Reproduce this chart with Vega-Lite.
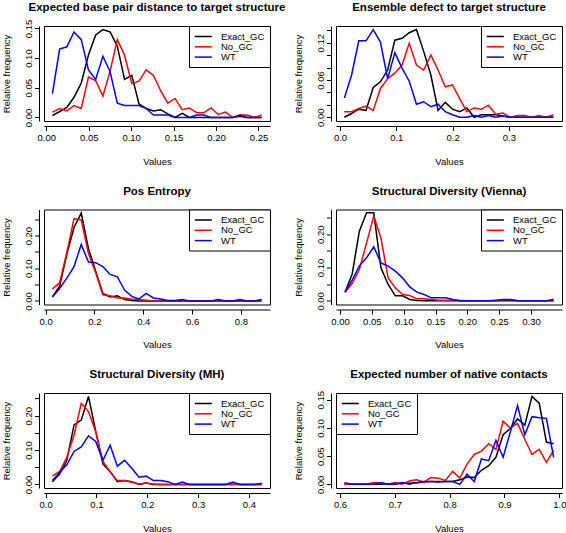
{
  "$schema": "https://vega.github.io/schema/vega-lite/v6.json",
  "padding": {"top": 1, "left": 0, "right": 0, "bottom": 0},
  "background": "white",
  "config": {
    "font": "Liberation Sans",
    "view": {"stroke": "black", "strokeWidth": 1},
    "axis": {"grid": false, "domainColor": "black", "tickColor": "black", "labelColor": "black", "titleColor": "black", "labelFontSize": 9.5, "titleFontSize": 9.5, "titleFontWeight": "normal", "tickSize": 4.5, "domainWidth": 1, "tickWidth": 1, "labelFont": "Liberation Sans", "titleFont": "Liberation Sans", "labelOverlap": false, "labelFlush": false, "labelBound": false, "offset": 5},
    "axisX": {"labelPadding": 2, "titlePadding": 14},
    "axisY": {"labelAngle": -90, "labelAlign": "center", "labelBaseline": "bottom", "labelPadding": 1.5, "titlePadding": 12},
    "title": {"fontSize": 11.5, "fontWeight": "bold", "anchor": "middle", "frame": "group", "color": "black", "font": "Liberation Sans", "baseline": "alphabetic", "offset": 12},
    "legend": {"orient": "top-right", "offset": 0, "strokeColor": "black", "fillColor": "white", "padding": 5, "symbolType": "M-1,0H2.6", "symbolSize": 90, "symbolStrokeWidth": 1.5, "symbolFillColor": "transparent", "labelFontSize": 9.5, "labelFont": "Liberation Sans", "labelColor": "black", "labelOffset": 16, "rowPadding": 0.3, "title": null, "cornerRadius": 0},
    "line": {"strokeWidth": 1.5}
  },
  "datasets": {
    "d": [
      {"p":1,"s":"Exact_GC","x":0.0072,"y":0.003},{"p":1,"s":"Exact_GC","x":0.0157,"y":0.01},{"p":1,"s":"Exact_GC","x":0.0242,"y":0.017},{"p":1,"s":"Exact_GC","x":0.0327,"y":0.034},{"p":1,"s":"Exact_GC","x":0.0412,"y":0.058},{"p":1,"s":"Exact_GC","x":0.0497,"y":0.105},{"p":1,"s":"Exact_GC","x":0.0582,"y":0.139},{"p":1,"s":"Exact_GC","x":0.0667,"y":0.148},{"p":1,"s":"Exact_GC","x":0.0752,"y":0.144},{"p":1,"s":"Exact_GC","x":0.0837,"y":0.12},{"p":1,"s":"Exact_GC","x":0.0922,"y":0.064},{"p":1,"s":"Exact_GC","x":0.1007,"y":0.071},{"p":1,"s":"Exact_GC","x":0.1092,"y":0.023},{"p":1,"s":"Exact_GC","x":0.1177,"y":0.015},{"p":1,"s":"Exact_GC","x":0.1262,"y":0.011},{"p":1,"s":"Exact_GC","x":0.1347,"y":0.013},{"p":1,"s":"Exact_GC","x":0.1432,"y":0.006},{"p":1,"s":"Exact_GC","x":0.1517,"y":0},{"p":1,"s":"Exact_GC","x":0.1602,"y":0.007},{"p":1,"s":"Exact_GC","x":0.1687,"y":0},{"p":1,"s":"Exact_GC","x":0.1772,"y":0},{"p":1,"s":"Exact_GC","x":0.1857,"y":0},{"p":1,"s":"Exact_GC","x":0.1942,"y":0},{"p":1,"s":"Exact_GC","x":0.2027,"y":0},{"p":1,"s":"Exact_GC","x":0.2112,"y":0},{"p":1,"s":"Exact_GC","x":0.2197,"y":0},{"p":1,"s":"Exact_GC","x":0.2282,"y":0.002},{"p":1,"s":"Exact_GC","x":0.2367,"y":0},{"p":1,"s":"Exact_GC","x":0.2452,"y":0},{"p":1,"s":"Exact_GC","x":0.2537,"y":0},
      {"p":1,"s":"No_GC","x":0.0072,"y":0.009},{"p":1,"s":"No_GC","x":0.0157,"y":0.015},{"p":1,"s":"No_GC","x":0.0242,"y":0.011},{"p":1,"s":"No_GC","x":0.0327,"y":0.02},{"p":1,"s":"No_GC","x":0.0412,"y":0.015},{"p":1,"s":"No_GC","x":0.0497,"y":0.068},{"p":1,"s":"No_GC","x":0.0582,"y":0.062},{"p":1,"s":"No_GC","x":0.0667,"y":0.036},{"p":1,"s":"No_GC","x":0.0752,"y":0.078},{"p":1,"s":"No_GC","x":0.0837,"y":0.131},{"p":1,"s":"No_GC","x":0.0922,"y":0.105},{"p":1,"s":"No_GC","x":0.1007,"y":0.057},{"p":1,"s":"No_GC","x":0.1092,"y":0.061},{"p":1,"s":"No_GC","x":0.1177,"y":0.08},{"p":1,"s":"No_GC","x":0.1262,"y":0.071},{"p":1,"s":"No_GC","x":0.1347,"y":0.045},{"p":1,"s":"No_GC","x":0.1432,"y":0.024},{"p":1,"s":"No_GC","x":0.1517,"y":0.032},{"p":1,"s":"No_GC","x":0.1602,"y":0.013},{"p":1,"s":"No_GC","x":0.1687,"y":0.016},{"p":1,"s":"No_GC","x":0.1772,"y":0.008},{"p":1,"s":"No_GC","x":0.1857,"y":0.008},{"p":1,"s":"No_GC","x":0.1942,"y":0.016},{"p":1,"s":"No_GC","x":0.2027,"y":0.005},{"p":1,"s":"No_GC","x":0.2112,"y":0.009},{"p":1,"s":"No_GC","x":0.2197,"y":0},{"p":1,"s":"No_GC","x":0.2282,"y":0.004},{"p":1,"s":"No_GC","x":0.2367,"y":0.004},{"p":1,"s":"No_GC","x":0.2452,"y":0},{"p":1,"s":"No_GC","x":0.2537,"y":0.004},
      {"p":1,"s":"WT","x":0.0072,"y":0.04},{"p":1,"s":"WT","x":0.0157,"y":0.115},{"p":1,"s":"WT","x":0.0242,"y":0.119},{"p":1,"s":"WT","x":0.0327,"y":0.144},{"p":1,"s":"WT","x":0.0412,"y":0.131},{"p":1,"s":"WT","x":0.0497,"y":0.08},{"p":1,"s":"WT","x":0.0582,"y":0.064},{"p":1,"s":"WT","x":0.0667,"y":0.103},{"p":1,"s":"WT","x":0.0752,"y":0.077},{"p":1,"s":"WT","x":0.0837,"y":0.024},{"p":1,"s":"WT","x":0.0922,"y":0.02},{"p":1,"s":"WT","x":0.1007,"y":0.02},{"p":1,"s":"WT","x":0.1092,"y":0.02},{"p":1,"s":"WT","x":0.1177,"y":0.015},{"p":1,"s":"WT","x":0.1262,"y":0.004},{"p":1,"s":"WT","x":0.1347,"y":0.004},{"p":1,"s":"WT","x":0.1432,"y":0.004},{"p":1,"s":"WT","x":0.1517,"y":0},{"p":1,"s":"WT","x":0.1602,"y":0},{"p":1,"s":"WT","x":0.1687,"y":0},{"p":1,"s":"WT","x":0.1772,"y":0.004},{"p":1,"s":"WT","x":0.1857,"y":0.004},{"p":1,"s":"WT","x":0.1942,"y":0},{"p":1,"s":"WT","x":0.2027,"y":0},{"p":1,"s":"WT","x":0.2112,"y":0},{"p":1,"s":"WT","x":0.2197,"y":0},{"p":1,"s":"WT","x":0.2282,"y":0.004},{"p":1,"s":"WT","x":0.2367,"y":0},{"p":1,"s":"WT","x":0.2452,"y":0},{"p":1,"s":"WT","x":0.2537,"y":0},

      {"p":2,"s":"Exact_GC","x":0.0078,"y":0},{"p":2,"s":"Exact_GC","x":0.0206,"y":0.006},{"p":2,"s":"Exact_GC","x":0.0334,"y":0.013},{"p":2,"s":"Exact_GC","x":0.0462,"y":0.011},{"p":2,"s":"Exact_GC","x":0.059,"y":0.048},{"p":2,"s":"Exact_GC","x":0.0718,"y":0.057},{"p":2,"s":"Exact_GC","x":0.0846,"y":0.076},{"p":2,"s":"Exact_GC","x":0.0974,"y":0.124},{"p":2,"s":"Exact_GC","x":0.1102,"y":0.127},{"p":2,"s":"Exact_GC","x":0.123,"y":0.136},{"p":2,"s":"Exact_GC","x":0.1358,"y":0.141},{"p":2,"s":"Exact_GC","x":0.1486,"y":0.106},{"p":2,"s":"Exact_GC","x":0.1614,"y":0.068},{"p":2,"s":"Exact_GC","x":0.1742,"y":0.011},{"p":2,"s":"Exact_GC","x":0.187,"y":0.024},{"p":2,"s":"Exact_GC","x":0.1998,"y":0.013},{"p":2,"s":"Exact_GC","x":0.2126,"y":0.009},{"p":2,"s":"Exact_GC","x":0.2254,"y":0.015},{"p":2,"s":"Exact_GC","x":0.2382,"y":0},{"p":2,"s":"Exact_GC","x":0.251,"y":0.004},{"p":2,"s":"Exact_GC","x":0.2638,"y":0.004},{"p":2,"s":"Exact_GC","x":0.2766,"y":0.004},{"p":2,"s":"Exact_GC","x":0.2894,"y":0.002},{"p":2,"s":"Exact_GC","x":0.3022,"y":0},{"p":2,"s":"Exact_GC","x":0.315,"y":0},{"p":2,"s":"Exact_GC","x":0.3278,"y":0},{"p":2,"s":"Exact_GC","x":0.3406,"y":0},{"p":2,"s":"Exact_GC","x":0.3534,"y":0},{"p":2,"s":"Exact_GC","x":0.3662,"y":0},{"p":2,"s":"Exact_GC","x":0.379,"y":0},
      {"p":2,"s":"No_GC","x":0.0078,"y":0.009},{"p":2,"s":"No_GC","x":0.0206,"y":0.009},{"p":2,"s":"No_GC","x":0.0334,"y":0.014},{"p":2,"s":"No_GC","x":0.0462,"y":0.018},{"p":2,"s":"No_GC","x":0.059,"y":0.011},{"p":2,"s":"No_GC","x":0.0718,"y":0.046},{"p":2,"s":"No_GC","x":0.0846,"y":0.062},{"p":2,"s":"No_GC","x":0.0974,"y":0.071},{"p":2,"s":"No_GC","x":0.1102,"y":0.084},{"p":2,"s":"No_GC","x":0.123,"y":0.119},{"p":2,"s":"No_GC","x":0.1358,"y":0.084},{"p":2,"s":"No_GC","x":0.1486,"y":0.076},{"p":2,"s":"No_GC","x":0.1614,"y":0.1},{"p":2,"s":"No_GC","x":0.1742,"y":0.076},{"p":2,"s":"No_GC","x":0.187,"y":0.049},{"p":2,"s":"No_GC","x":0.1998,"y":0.052},{"p":2,"s":"No_GC","x":0.2126,"y":0.03},{"p":2,"s":"No_GC","x":0.2254,"y":0.009},{"p":2,"s":"No_GC","x":0.2382,"y":0.015},{"p":2,"s":"No_GC","x":0.251,"y":0.013},{"p":2,"s":"No_GC","x":0.2638,"y":0.019},{"p":2,"s":"No_GC","x":0.2766,"y":0.005},{"p":2,"s":"No_GC","x":0.2894,"y":0.007},{"p":2,"s":"No_GC","x":0.3022,"y":0},{"p":2,"s":"No_GC","x":0.315,"y":0.003},{"p":2,"s":"No_GC","x":0.3278,"y":0.003},{"p":2,"s":"No_GC","x":0.3406,"y":0},{"p":2,"s":"No_GC","x":0.3534,"y":0.003},{"p":2,"s":"No_GC","x":0.3662,"y":0},{"p":2,"s":"No_GC","x":0.379,"y":0.004},
      {"p":2,"s":"WT","x":0.0078,"y":0.031},{"p":2,"s":"WT","x":0.0206,"y":0.068},{"p":2,"s":"WT","x":0.0334,"y":0.123},{"p":2,"s":"WT","x":0.0462,"y":0.123},{"p":2,"s":"WT","x":0.059,"y":0.141},{"p":2,"s":"WT","x":0.0718,"y":0.121},{"p":2,"s":"WT","x":0.0846,"y":0.062},{"p":2,"s":"WT","x":0.0974,"y":0.104},{"p":2,"s":"WT","x":0.1102,"y":0.079},{"p":2,"s":"WT","x":0.123,"y":0.058},{"p":2,"s":"WT","x":0.1358,"y":0.021},{"p":2,"s":"WT","x":0.1486,"y":0.025},{"p":2,"s":"WT","x":0.1614,"y":0.017},{"p":2,"s":"WT","x":0.1742,"y":0.021},{"p":2,"s":"WT","x":0.187,"y":0.009},{"p":2,"s":"WT","x":0.1998,"y":0.004},{"p":2,"s":"WT","x":0.2126,"y":0},{"p":2,"s":"WT","x":0.2254,"y":0},{"p":2,"s":"WT","x":0.2382,"y":0.003},{"p":2,"s":"WT","x":0.251,"y":0},{"p":2,"s":"WT","x":0.2638,"y":0.003},{"p":2,"s":"WT","x":0.2766,"y":0},{"p":2,"s":"WT","x":0.2894,"y":0.002},{"p":2,"s":"WT","x":0.3022,"y":0},{"p":2,"s":"WT","x":0.315,"y":0},{"p":2,"s":"WT","x":0.3278,"y":0},{"p":2,"s":"WT","x":0.3406,"y":0},{"p":2,"s":"WT","x":0.3534,"y":0},{"p":2,"s":"WT","x":0.3662,"y":0},{"p":2,"s":"WT","x":0.379,"y":0},

      {"p":3,"s":"Exact_GC","x":0.0277,"y":0.012},{"p":3,"s":"Exact_GC","x":0.0573,"y":0.045},{"p":3,"s":"Exact_GC","x":0.0868,"y":0.143},{"p":3,"s":"Exact_GC","x":0.1164,"y":0.225},{"p":3,"s":"Exact_GC","x":0.1459,"y":0.269},{"p":3,"s":"Exact_GC","x":0.1755,"y":0.16},{"p":3,"s":"Exact_GC","x":0.205,"y":0.091},{"p":3,"s":"Exact_GC","x":0.2346,"y":0.023},{"p":3,"s":"Exact_GC","x":0.2641,"y":0.012},{"p":3,"s":"Exact_GC","x":0.2937,"y":0.016},{"p":3,"s":"Exact_GC","x":0.3232,"y":0.004},{"p":3,"s":"Exact_GC","x":0.3528,"y":0.001},{"p":3,"s":"Exact_GC","x":0.3823,"y":0},{"p":3,"s":"Exact_GC","x":0.4119,"y":0},{"p":3,"s":"Exact_GC","x":0.4414,"y":0},{"p":3,"s":"Exact_GC","x":0.471,"y":0},{"p":3,"s":"Exact_GC","x":0.5005,"y":0},{"p":3,"s":"Exact_GC","x":0.5301,"y":0},{"p":3,"s":"Exact_GC","x":0.5596,"y":0},{"p":3,"s":"Exact_GC","x":0.5892,"y":0},{"p":3,"s":"Exact_GC","x":0.6187,"y":0},{"p":3,"s":"Exact_GC","x":0.6483,"y":0},{"p":3,"s":"Exact_GC","x":0.6778,"y":0},{"p":3,"s":"Exact_GC","x":0.7074,"y":0},{"p":3,"s":"Exact_GC","x":0.7369,"y":0},{"p":3,"s":"Exact_GC","x":0.7665,"y":0},{"p":3,"s":"Exact_GC","x":0.796,"y":0},{"p":3,"s":"Exact_GC","x":0.8256,"y":0},{"p":3,"s":"Exact_GC","x":0.8551,"y":0},{"p":3,"s":"Exact_GC","x":0.8847,"y":0},
      {"p":3,"s":"No_GC","x":0.0277,"y":0.037},{"p":3,"s":"No_GC","x":0.0573,"y":0.055},{"p":3,"s":"No_GC","x":0.0868,"y":0.148},{"p":3,"s":"No_GC","x":0.1164,"y":0.252},{"p":3,"s":"No_GC","x":0.1459,"y":0.248},{"p":3,"s":"No_GC","x":0.1755,"y":0.145},{"p":3,"s":"No_GC","x":0.205,"y":0.086},{"p":3,"s":"No_GC","x":0.2346,"y":0.019},{"p":3,"s":"No_GC","x":0.2641,"y":0.016},{"p":3,"s":"No_GC","x":0.2937,"y":0.009},{"p":3,"s":"No_GC","x":0.3232,"y":0.009},{"p":3,"s":"No_GC","x":0.3528,"y":0.006},{"p":3,"s":"No_GC","x":0.3823,"y":0.004},{"p":3,"s":"No_GC","x":0.4119,"y":0.002},{"p":3,"s":"No_GC","x":0.4414,"y":0},{"p":3,"s":"No_GC","x":0.471,"y":0},{"p":3,"s":"No_GC","x":0.5005,"y":0},{"p":3,"s":"No_GC","x":0.5301,"y":0},{"p":3,"s":"No_GC","x":0.5596,"y":0},{"p":3,"s":"No_GC","x":0.5892,"y":0},{"p":3,"s":"No_GC","x":0.6187,"y":0},{"p":3,"s":"No_GC","x":0.6483,"y":0},{"p":3,"s":"No_GC","x":0.6778,"y":0},{"p":3,"s":"No_GC","x":0.7074,"y":0},{"p":3,"s":"No_GC","x":0.7369,"y":0},{"p":3,"s":"No_GC","x":0.7665,"y":0},{"p":3,"s":"No_GC","x":0.796,"y":0},{"p":3,"s":"No_GC","x":0.8256,"y":0},{"p":3,"s":"No_GC","x":0.8551,"y":0},{"p":3,"s":"No_GC","x":0.8847,"y":0.002},
      {"p":3,"s":"WT","x":0.0277,"y":0.012},{"p":3,"s":"WT","x":0.0573,"y":0.038},{"p":3,"s":"WT","x":0.0868,"y":0.07},{"p":3,"s":"WT","x":0.1164,"y":0.105},{"p":3,"s":"WT","x":0.1459,"y":0.173},{"p":3,"s":"WT","x":0.1755,"y":0.119},{"p":3,"s":"WT","x":0.205,"y":0.117},{"p":3,"s":"WT","x":0.2346,"y":0.105},{"p":3,"s":"WT","x":0.2641,"y":0.081},{"p":3,"s":"WT","x":0.2937,"y":0.074},{"p":3,"s":"WT","x":0.3232,"y":0.033},{"p":3,"s":"WT","x":0.3528,"y":0.014},{"p":3,"s":"WT","x":0.3823,"y":0.006},{"p":3,"s":"WT","x":0.4119,"y":0.023},{"p":3,"s":"WT","x":0.4414,"y":0.009},{"p":3,"s":"WT","x":0.471,"y":0.006},{"p":3,"s":"WT","x":0.5005,"y":0.001},{"p":3,"s":"WT","x":0.5301,"y":0.001},{"p":3,"s":"WT","x":0.5596,"y":0.004},{"p":3,"s":"WT","x":0.5892,"y":0},{"p":3,"s":"WT","x":0.6187,"y":0},{"p":3,"s":"WT","x":0.6483,"y":0},{"p":3,"s":"WT","x":0.6778,"y":0},{"p":3,"s":"WT","x":0.7074,"y":0.004},{"p":3,"s":"WT","x":0.7369,"y":0},{"p":3,"s":"WT","x":0.7665,"y":0},{"p":3,"s":"WT","x":0.796,"y":0.004},{"p":3,"s":"WT","x":0.8256,"y":0},{"p":3,"s":"WT","x":0.8551,"y":0},{"p":3,"s":"WT","x":0.8847,"y":0.004},

      {"p":4,"s":"Exact_GC","x":0.0078,"y":0.026},{"p":4,"s":"Exact_GC","x":0.0191,"y":0.08},{"p":4,"s":"Exact_GC","x":0.0304,"y":0.209},{"p":4,"s":"Exact_GC","x":0.0417,"y":0.264},{"p":4,"s":"Exact_GC","x":0.053,"y":0.264},{"p":4,"s":"Exact_GC","x":0.0643,"y":0.099},{"p":4,"s":"Exact_GC","x":0.0756,"y":0.049},{"p":4,"s":"Exact_GC","x":0.0869,"y":0.015},{"p":4,"s":"Exact_GC","x":0.0982,"y":0.015},{"p":4,"s":"Exact_GC","x":0.1095,"y":0.004},{"p":4,"s":"Exact_GC","x":0.1208,"y":0.001},{"p":4,"s":"Exact_GC","x":0.1321,"y":0},{"p":4,"s":"Exact_GC","x":0.1434,"y":0},{"p":4,"s":"Exact_GC","x":0.1547,"y":0},{"p":4,"s":"Exact_GC","x":0.166,"y":0},{"p":4,"s":"Exact_GC","x":0.1773,"y":0},{"p":4,"s":"Exact_GC","x":0.1886,"y":0},{"p":4,"s":"Exact_GC","x":0.1999,"y":0},{"p":4,"s":"Exact_GC","x":0.2112,"y":0},{"p":4,"s":"Exact_GC","x":0.2225,"y":0},{"p":4,"s":"Exact_GC","x":0.2338,"y":0},{"p":4,"s":"Exact_GC","x":0.2451,"y":0},{"p":4,"s":"Exact_GC","x":0.2564,"y":0},{"p":4,"s":"Exact_GC","x":0.2677,"y":0},{"p":4,"s":"Exact_GC","x":0.279,"y":0},{"p":4,"s":"Exact_GC","x":0.2903,"y":0},{"p":4,"s":"Exact_GC","x":0.3016,"y":0},{"p":4,"s":"Exact_GC","x":0.3129,"y":0},{"p":4,"s":"Exact_GC","x":0.3242,"y":0},{"p":4,"s":"Exact_GC","x":0.3355,"y":0},
      {"p":4,"s":"No_GC","x":0.0078,"y":0.026},{"p":4,"s":"No_GC","x":0.0191,"y":0.052},{"p":4,"s":"No_GC","x":0.0304,"y":0.094},{"p":4,"s":"No_GC","x":0.0417,"y":0.174},{"p":4,"s":"No_GC","x":0.053,"y":0.254},{"p":4,"s":"No_GC","x":0.0643,"y":0.189},{"p":4,"s":"No_GC","x":0.0756,"y":0.069},{"p":4,"s":"No_GC","x":0.0869,"y":0.039},{"p":4,"s":"No_GC","x":0.0982,"y":0.019},{"p":4,"s":"No_GC","x":0.1095,"y":0.016},{"p":4,"s":"No_GC","x":0.1208,"y":0.006},{"p":4,"s":"No_GC","x":0.1321,"y":0.006},{"p":4,"s":"No_GC","x":0.1434,"y":0.004},{"p":4,"s":"No_GC","x":0.1547,"y":0.002},{"p":4,"s":"No_GC","x":0.166,"y":0.002},{"p":4,"s":"No_GC","x":0.1773,"y":0.002},{"p":4,"s":"No_GC","x":0.1886,"y":0.001},{"p":4,"s":"No_GC","x":0.1999,"y":0},{"p":4,"s":"No_GC","x":0.2112,"y":0},{"p":4,"s":"No_GC","x":0.2225,"y":0},{"p":4,"s":"No_GC","x":0.2338,"y":0},{"p":4,"s":"No_GC","x":0.2451,"y":0},{"p":4,"s":"No_GC","x":0.2564,"y":0.003},{"p":4,"s":"No_GC","x":0.2677,"y":0.003},{"p":4,"s":"No_GC","x":0.279,"y":0},{"p":4,"s":"No_GC","x":0.2903,"y":0},{"p":4,"s":"No_GC","x":0.3016,"y":0},{"p":4,"s":"No_GC","x":0.3129,"y":0},{"p":4,"s":"No_GC","x":0.3242,"y":0},{"p":4,"s":"No_GC","x":0.3355,"y":0},
      {"p":4,"s":"WT","x":0.0078,"y":0.026},{"p":4,"s":"WT","x":0.0191,"y":0.062},{"p":4,"s":"WT","x":0.0304,"y":0.105},{"p":4,"s":"WT","x":0.0417,"y":0.129},{"p":4,"s":"WT","x":0.053,"y":0.162},{"p":4,"s":"WT","x":0.0643,"y":0.114},{"p":4,"s":"WT","x":0.0756,"y":0.104},{"p":4,"s":"WT","x":0.0869,"y":0.089},{"p":4,"s":"WT","x":0.0982,"y":0.069},{"p":4,"s":"WT","x":0.1095,"y":0.042},{"p":4,"s":"WT","x":0.1208,"y":0.026},{"p":4,"s":"WT","x":0.1321,"y":0.019},{"p":4,"s":"WT","x":0.1434,"y":0.009},{"p":4,"s":"WT","x":0.1547,"y":0.009},{"p":4,"s":"WT","x":0.166,"y":0.009},{"p":4,"s":"WT","x":0.1773,"y":0.004},{"p":4,"s":"WT","x":0.1886,"y":0},{"p":4,"s":"WT","x":0.1999,"y":0},{"p":4,"s":"WT","x":0.2112,"y":0},{"p":4,"s":"WT","x":0.2225,"y":0},{"p":4,"s":"WT","x":0.2338,"y":0},{"p":4,"s":"WT","x":0.2451,"y":0.002},{"p":4,"s":"WT","x":0.2564,"y":0.004},{"p":4,"s":"WT","x":0.2677,"y":0.004},{"p":4,"s":"WT","x":0.279,"y":0},{"p":4,"s":"WT","x":0.2903,"y":0},{"p":4,"s":"WT","x":0.3016,"y":0},{"p":4,"s":"WT","x":0.3129,"y":0},{"p":4,"s":"WT","x":0.3242,"y":0},{"p":4,"s":"WT","x":0.3355,"y":0.005},

      {"p":5,"s":"Exact_GC","x":0.0133,"y":0.008},{"p":5,"s":"Exact_GC","x":0.0275,"y":0.03},{"p":5,"s":"Exact_GC","x":0.0417,"y":0.07},{"p":5,"s":"Exact_GC","x":0.0559,"y":0.173},{"p":5,"s":"Exact_GC","x":0.0701,"y":0.187},{"p":5,"s":"Exact_GC","x":0.0843,"y":0.256},{"p":5,"s":"Exact_GC","x":0.0985,"y":0.155},{"p":5,"s":"Exact_GC","x":0.1127,"y":0.06},{"p":5,"s":"Exact_GC","x":0.1269,"y":0.037},{"p":5,"s":"Exact_GC","x":0.1411,"y":0.008},{"p":5,"s":"Exact_GC","x":0.1553,"y":0.011},{"p":5,"s":"Exact_GC","x":0.1695,"y":0.008},{"p":5,"s":"Exact_GC","x":0.1837,"y":0},{"p":5,"s":"Exact_GC","x":0.1979,"y":0.004},{"p":5,"s":"Exact_GC","x":0.2121,"y":0},{"p":5,"s":"Exact_GC","x":0.2263,"y":0},{"p":5,"s":"Exact_GC","x":0.2405,"y":0},{"p":5,"s":"Exact_GC","x":0.2547,"y":0},{"p":5,"s":"Exact_GC","x":0.2689,"y":0},{"p":5,"s":"Exact_GC","x":0.2831,"y":0},{"p":5,"s":"Exact_GC","x":0.2973,"y":0},{"p":5,"s":"Exact_GC","x":0.3115,"y":0},{"p":5,"s":"Exact_GC","x":0.3257,"y":0},{"p":5,"s":"Exact_GC","x":0.3399,"y":0},{"p":5,"s":"Exact_GC","x":0.3541,"y":0},{"p":5,"s":"Exact_GC","x":0.3683,"y":0},{"p":5,"s":"Exact_GC","x":0.3825,"y":0},{"p":5,"s":"Exact_GC","x":0.3967,"y":0},{"p":5,"s":"Exact_GC","x":0.4109,"y":0},{"p":5,"s":"Exact_GC","x":0.4251,"y":0},
      {"p":5,"s":"No_GC","x":0.0133,"y":0.025},{"p":5,"s":"No_GC","x":0.0275,"y":0.037},{"p":5,"s":"No_GC","x":0.0417,"y":0.079},{"p":5,"s":"No_GC","x":0.0559,"y":0.143},{"p":5,"s":"No_GC","x":0.0701,"y":0.236},{"p":5,"s":"No_GC","x":0.0843,"y":0.212},{"p":5,"s":"No_GC","x":0.0985,"y":0.153},{"p":5,"s":"No_GC","x":0.1127,"y":0.067},{"p":5,"s":"No_GC","x":0.1269,"y":0.037},{"p":5,"s":"No_GC","x":0.1411,"y":0.011},{"p":5,"s":"No_GC","x":0.1553,"y":0.011},{"p":5,"s":"No_GC","x":0.1695,"y":0.006},{"p":5,"s":"No_GC","x":0.1837,"y":0.001},{"p":5,"s":"No_GC","x":0.1979,"y":0.004},{"p":5,"s":"No_GC","x":0.2121,"y":0.001},{"p":5,"s":"No_GC","x":0.2263,"y":0},{"p":5,"s":"No_GC","x":0.2405,"y":0},{"p":5,"s":"No_GC","x":0.2547,"y":0},{"p":5,"s":"No_GC","x":0.2689,"y":0},{"p":5,"s":"No_GC","x":0.2831,"y":0},{"p":5,"s":"No_GC","x":0.2973,"y":0},{"p":5,"s":"No_GC","x":0.3115,"y":0},{"p":5,"s":"No_GC","x":0.3257,"y":0},{"p":5,"s":"No_GC","x":0.3399,"y":0},{"p":5,"s":"No_GC","x":0.3541,"y":0},{"p":5,"s":"No_GC","x":0.3683,"y":0.001},{"p":5,"s":"No_GC","x":0.3825,"y":0},{"p":5,"s":"No_GC","x":0.3967,"y":0},{"p":5,"s":"No_GC","x":0.4109,"y":0},{"p":5,"s":"No_GC","x":0.4251,"y":0},
      {"p":5,"s":"WT","x":0.0133,"y":0.011},{"p":5,"s":"WT","x":0.0275,"y":0.035},{"p":5,"s":"WT","x":0.0417,"y":0.057},{"p":5,"s":"WT","x":0.0559,"y":0.096},{"p":5,"s":"WT","x":0.0701,"y":0.109},{"p":5,"s":"WT","x":0.0843,"y":0.141},{"p":5,"s":"WT","x":0.0985,"y":0.125},{"p":5,"s":"WT","x":0.1127,"y":0.07},{"p":5,"s":"WT","x":0.1269,"y":0.114},{"p":5,"s":"WT","x":0.1411,"y":0.053},{"p":5,"s":"WT","x":0.1553,"y":0.07},{"p":5,"s":"WT","x":0.1695,"y":0.047},{"p":5,"s":"WT","x":0.1837,"y":0.021},{"p":5,"s":"WT","x":0.1979,"y":0.024},{"p":5,"s":"WT","x":0.2121,"y":0.011},{"p":5,"s":"WT","x":0.2263,"y":0.011},{"p":5,"s":"WT","x":0.2405,"y":0.008},{"p":5,"s":"WT","x":0.2547,"y":0},{"p":5,"s":"WT","x":0.2689,"y":0.007},{"p":5,"s":"WT","x":0.2831,"y":0},{"p":5,"s":"WT","x":0.2973,"y":0},{"p":5,"s":"WT","x":0.3115,"y":0},{"p":5,"s":"WT","x":0.3257,"y":0},{"p":5,"s":"WT","x":0.3399,"y":0},{"p":5,"s":"WT","x":0.3541,"y":0},{"p":5,"s":"WT","x":0.3683,"y":0.007},{"p":5,"s":"WT","x":0.3825,"y":0},{"p":5,"s":"WT","x":0.3967,"y":0},{"p":5,"s":"WT","x":0.4109,"y":0},{"p":5,"s":"WT","x":0.4251,"y":0.003},

      {"p":6,"s":"Exact_GC","x":0.608,"y":0},{"p":6,"s":"Exact_GC","x":0.6212,"y":0},{"p":6,"s":"Exact_GC","x":0.6343,"y":0},{"p":6,"s":"Exact_GC","x":0.6475,"y":0},{"p":6,"s":"Exact_GC","x":0.6606,"y":0},{"p":6,"s":"Exact_GC","x":0.6738,"y":0},{"p":6,"s":"Exact_GC","x":0.687,"y":0.001},{"p":6,"s":"Exact_GC","x":0.7001,"y":0.001},{"p":6,"s":"Exact_GC","x":0.7133,"y":0.002},{"p":6,"s":"Exact_GC","x":0.7264,"y":0.002},{"p":6,"s":"Exact_GC","x":0.7396,"y":0.003},{"p":6,"s":"Exact_GC","x":0.7528,"y":0.004},{"p":6,"s":"Exact_GC","x":0.7659,"y":0.005},{"p":6,"s":"Exact_GC","x":0.7791,"y":0.005},{"p":6,"s":"Exact_GC","x":0.7922,"y":0.005},{"p":6,"s":"Exact_GC","x":0.8054,"y":0.005},{"p":6,"s":"Exact_GC","x":0.8186,"y":0.008},{"p":6,"s":"Exact_GC","x":0.8317,"y":0.013},{"p":6,"s":"Exact_GC","x":0.8449,"y":0.012},{"p":6,"s":"Exact_GC","x":0.858,"y":0.025},{"p":6,"s":"Exact_GC","x":0.8712,"y":0.033},{"p":6,"s":"Exact_GC","x":0.8844,"y":0.048},{"p":6,"s":"Exact_GC","x":0.8975,"y":0.088},{"p":6,"s":"Exact_GC","x":0.9107,"y":0.099},{"p":6,"s":"Exact_GC","x":0.9238,"y":0.116},{"p":6,"s":"Exact_GC","x":0.937,"y":0.105},{"p":6,"s":"Exact_GC","x":0.9502,"y":0.156},{"p":6,"s":"Exact_GC","x":0.9633,"y":0.144},{"p":6,"s":"Exact_GC","x":0.9765,"y":0.075},{"p":6,"s":"Exact_GC","x":0.9896,"y":0.072},
      {"p":6,"s":"No_GC","x":0.608,"y":0},{"p":6,"s":"No_GC","x":0.6212,"y":0},{"p":6,"s":"No_GC","x":0.6343,"y":0},{"p":6,"s":"No_GC","x":0.6475,"y":0},{"p":6,"s":"No_GC","x":0.6606,"y":0.003},{"p":6,"s":"No_GC","x":0.6738,"y":0.003},{"p":6,"s":"No_GC","x":0.687,"y":0},{"p":6,"s":"No_GC","x":0.7001,"y":0.003},{"p":6,"s":"No_GC","x":0.7133,"y":0},{"p":6,"s":"No_GC","x":0.7264,"y":0.006},{"p":6,"s":"No_GC","x":0.7396,"y":0.008},{"p":6,"s":"No_GC","x":0.7528,"y":0.004},{"p":6,"s":"No_GC","x":0.7659,"y":0.012},{"p":6,"s":"No_GC","x":0.7791,"y":0.011},{"p":6,"s":"No_GC","x":0.7922,"y":0.007},{"p":6,"s":"No_GC","x":0.8054,"y":0.023},{"p":6,"s":"No_GC","x":0.8186,"y":0.011},{"p":6,"s":"No_GC","x":0.8317,"y":0.036},{"p":6,"s":"No_GC","x":0.8449,"y":0.053},{"p":6,"s":"No_GC","x":0.858,"y":0.059},{"p":6,"s":"No_GC","x":0.8712,"y":0.072},{"p":6,"s":"No_GC","x":0.8844,"y":0.062},{"p":6,"s":"No_GC","x":0.8975,"y":0.112},{"p":6,"s":"No_GC","x":0.9107,"y":0.1},{"p":6,"s":"No_GC","x":0.9238,"y":0.108},{"p":6,"s":"No_GC","x":0.937,"y":0.08},{"p":6,"s":"No_GC","x":0.9502,"y":0.053},{"p":6,"s":"No_GC","x":0.9633,"y":0.062},{"p":6,"s":"No_GC","x":0.9765,"y":0.039},{"p":6,"s":"No_GC","x":0.9896,"y":0.06},
      {"p":6,"s":"WT","x":0.608,"y":0.003},{"p":6,"s":"WT","x":0.6212,"y":0},{"p":6,"s":"WT","x":0.6343,"y":0},{"p":6,"s":"WT","x":0.6475,"y":0},{"p":6,"s":"WT","x":0.6606,"y":0},{"p":6,"s":"WT","x":0.6738,"y":0.003},{"p":6,"s":"WT","x":0.687,"y":0},{"p":6,"s":"WT","x":0.7001,"y":0},{"p":6,"s":"WT","x":0.7133,"y":0.003},{"p":6,"s":"WT","x":0.7264,"y":0},{"p":6,"s":"WT","x":0.7396,"y":0.003},{"p":6,"s":"WT","x":0.7528,"y":0.005},{"p":6,"s":"WT","x":0.7659,"y":0.005},{"p":6,"s":"WT","x":0.7791,"y":0.004},{"p":6,"s":"WT","x":0.7922,"y":0.005},{"p":6,"s":"WT","x":0.8054,"y":0.005},{"p":6,"s":"WT","x":0.8186,"y":0},{"p":6,"s":"WT","x":0.8317,"y":0.018},{"p":6,"s":"WT","x":0.8449,"y":0.005},{"p":6,"s":"WT","x":0.858,"y":0.045},{"p":6,"s":"WT","x":0.8712,"y":0.042},{"p":6,"s":"WT","x":0.8844,"y":0.078},{"p":6,"s":"WT","x":0.8975,"y":0.048},{"p":6,"s":"WT","x":0.9107,"y":0.093},{"p":6,"s":"WT","x":0.9238,"y":0.14},{"p":6,"s":"WT","x":0.937,"y":0.088},{"p":6,"s":"WT","x":0.9502,"y":0.12},{"p":6,"s":"WT","x":0.9633,"y":0.118},{"p":6,"s":"WT","x":0.9765,"y":0.117},{"p":6,"s":"WT","x":0.9896,"y":0.048}
    ]
  },
  "data": {"name": "d"},
  "columns": 2,
  "spacing": {"row": 88.5, "column": 66},
  "bounds": "flush",
  "resolve": {"scale": {"x": "independent", "y": "independent", "color": "independent"}, "legend": {"color": "independent"}},
  "concat": [
    {
      "title": {"text": "Expected base pair distance to target structure", "offset": 5.2},
      "width": 226, "height": 95,
      "transform": [{"filter": "datum.p == 1"}],
      "mark": {"type": "line"},
      "encoding": {
        "x": {"field": "x", "type": "quantitative", "scale": {"domain": [-0.0027, 0.2636], "nice": false, "zero": false}, "axis": {"values": [0, 0.05, 0.1, 0.15, 0.2, 0.25], "format": ".2f", "title": "Values"}},
        "y": {"field": "y", "type": "quantitative", "scale": {"domain": [-0.006, 0.154], "nice": false, "zero": false}, "axis": {"values": [0, 0.05, 0.1, 0.15], "format": ".2f", "title": "Relative frequency"}},
        "color": {"field": "s", "type": "nominal", "scale": {"domain": ["Exact_GC", "No_GC", "WT"], "range": ["#000000", "#ff0000", "#0000ff"]}, "legend": {"orient": "top-right"}}
      }
    },
    {
      "title": {"text": "Ensemble defect to target structure", "offset": 12},
      "width": 226, "height": 95,
      "transform": [{"filter": "datum.p == 2"}],
      "mark": {"type": "line"},
      "encoding": {
        "x": {"field": "x", "type": "quantitative", "scale": {"domain": [-0.0071, 0.3943], "nice": false, "zero": false}, "axis": {"values": [0, 0.1, 0.2, 0.3], "format": ".1f", "title": "Values"}},
        "y": {"field": "y", "type": "quantitative", "scale": {"domain": [-0.006, 0.1468], "nice": false, "zero": false}, "axis": {"values": [0, 0.02, 0.04, 0.06, 0.08, 0.1, 0.12, 0.14], "labelExpr": "round(datum.value*100) % 6 == 0 ? format(datum.value, '.2f') : ''", "title": "Relative frequency"}},
        "color": {"field": "s", "type": "nominal", "scale": {"domain": ["Exact_GC", "No_GC", "WT"], "range": ["#000000", "#ff0000", "#0000ff"]}, "legend": {"orient": "top-right"}}
      }
    },
    {
      "title": {"text": "Pos Entropy", "offset": 12},
      "width": 226, "height": 95,
      "transform": [{"filter": "datum.p == 3"}],
      "mark": {"type": "line"},
      "encoding": {
        "x": {"field": "x", "type": "quantitative", "scale": {"domain": [-0.0066, 0.919], "nice": false, "zero": false}, "axis": {"values": [0, 0.2, 0.4, 0.6, 0.8], "format": ".1f", "title": "Values"}},
        "y": {"field": "y", "type": "quantitative", "scale": {"domain": [-0.011, 0.28], "nice": false, "zero": false}, "axis": {"values": [0, 0.05, 0.1, 0.15, 0.2, 0.25], "labelExpr": "round(datum.value*100) % 10 == 0 ? format(datum.value, '.2f') : ''", "title": "Relative frequency"}},
        "color": {"field": "s", "type": "nominal", "scale": {"domain": ["Exact_GC", "No_GC", "WT"], "range": ["#000000", "#ff0000", "#0000ff"]}, "legend": {"orient": "top-right"}}
      }
    },
    {
      "title": {"text": "Structural Diversity (Vienna)", "offset": 12},
      "width": 226, "height": 95,
      "transform": [{"filter": "datum.p == 4"}],
      "mark": {"type": "line"},
      "encoding": {
        "x": {"field": "x", "type": "quantitative", "scale": {"domain": [-0.0063, 0.3487], "nice": false, "zero": false}, "axis": {"values": [0, 0.05, 0.1, 0.15, 0.2, 0.25, 0.3], "format": ".2f", "title": "Values"}},
        "y": {"field": "y", "type": "quantitative", "scale": {"domain": [-0.011, 0.274], "nice": false, "zero": false}, "axis": {"values": [0, 0.05, 0.1, 0.15, 0.2, 0.25], "labelExpr": "round(datum.value*100) % 10 == 0 ? format(datum.value, '.2f') : ''", "title": "Relative frequency"}},
        "color": {"field": "s", "type": "nominal", "scale": {"domain": ["Exact_GC", "No_GC", "WT"], "range": ["#000000", "#ff0000", "#0000ff"]}, "legend": {"orient": "top-right"}}
      }
    },
    {
      "title": {"text": "Structural Diversity (MH)", "offset": 12},
      "width": 226, "height": 95,
      "transform": [{"filter": "datum.p == 5"}],
      "mark": {"type": "line"},
      "encoding": {
        "x": {"field": "x", "type": "quantitative", "scale": {"domain": [-0.0032, 0.4414], "nice": false, "zero": false}, "axis": {"values": [0, 0.1, 0.2, 0.3, 0.4], "format": ".1f", "title": "Values"}},
        "y": {"field": "y", "type": "quantitative", "scale": {"domain": [-0.0105, 0.266], "nice": false, "zero": false}, "axis": {"values": [0, 0.05, 0.1, 0.15, 0.2, 0.25], "labelExpr": "round(datum.value*100) % 10 == 0 ? format(datum.value, '.2f') : ''", "title": "Relative frequency"}},
        "color": {"field": "s", "type": "nominal", "scale": {"domain": ["Exact_GC", "No_GC", "WT"], "range": ["#000000", "#ff0000", "#0000ff"]}, "legend": {"orient": "top-right"}}
      }
    },
    {
      "title": {"text": "Expected number of native contacts", "offset": 9.6},
      "width": 226, "height": 95,
      "transform": [{"filter": "datum.p == 6"}],
      "mark": {"type": "line"},
      "encoding": {
        "x": {"field": "x", "type": "quantitative", "scale": {"domain": [0.5927, 1.0049], "nice": false, "zero": false}, "axis": {"values": [0.6, 0.7, 0.8, 0.9, 1.0], "format": ".1f", "title": "Values"}},
        "y": {"field": "y", "type": "quantitative", "scale": {"domain": [-0.0065, 0.162], "nice": false, "zero": false}, "axis": {"values": [0, 0.05, 0.1, 0.15], "format": ".2f", "title": "Relative frequency"}},
        "color": {"field": "s", "type": "nominal", "scale": {"domain": ["Exact_GC", "No_GC", "WT"], "range": ["#000000", "#ff0000", "#0000ff"]}, "legend": {"orient": "top-left"}}
      }
    }
  ]
}
